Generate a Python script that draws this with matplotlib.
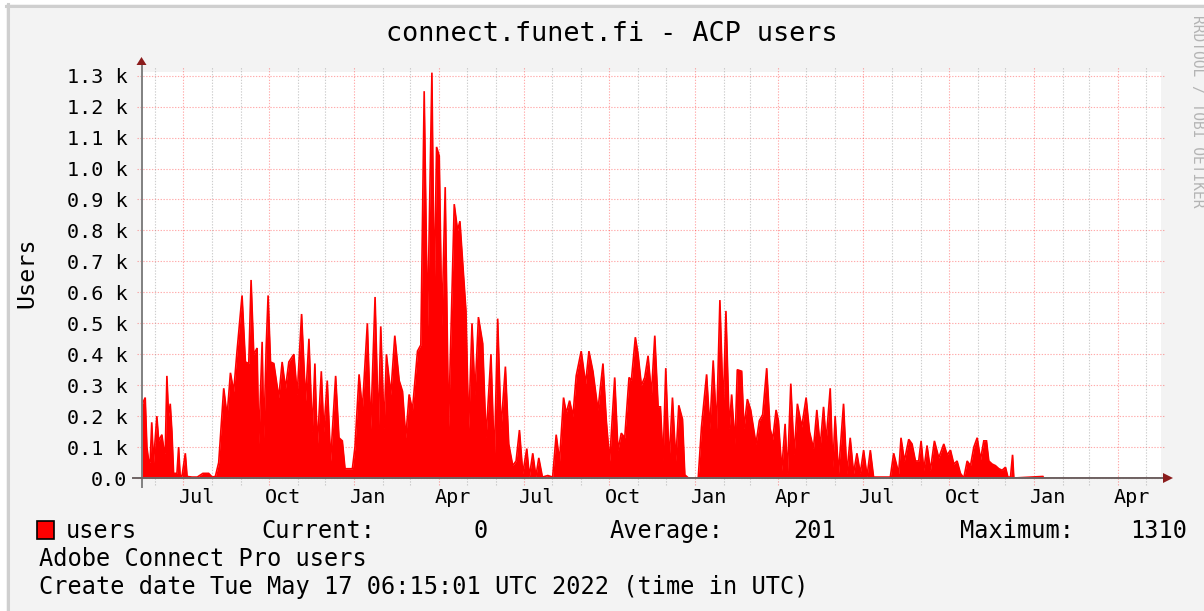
import datetime as dt
import matplotlib
matplotlib.use("Agg")
import matplotlib.pyplot as plt
import matplotlib.transforms as mtrans
from matplotlib.patches import Polygon, Rectangle
from matplotlib.lines import Line2D

# ---------------- data ----------------
start_date = dt.datetime(2019, 5, 17, 6, 15)
end_date = dt.datetime(2022, 5, 17, 6, 15)

day_offset = [
    0.0, 1.0, 4.0, 5.8, 7.5, 9.3, 11.0, 12.9, 16.5, 18.5, 20.1, 21.9, 23.7, 25.5, 27.3, 29.1,
    30.9, 32.7, 34.5, 38.1, 39.9, 41.5, 43.5, 47.1, 49.0, 54.2, 60.0, 66.0, 72.2, 76.0, 79.4,
    83.0, 88.4, 92.0, 95.6, 99.1, 102.7, 108.1, 111.7, 115.3, 117.8, 120.7, 124.3, 126.1,
    129.7, 131.5, 134.0, 136.1, 138.7, 142.3, 147.6, 151.2, 154.8, 158.4, 163.8, 167.4, 172.1,
    176.4, 180.0, 183.6, 186.4, 189.0, 193.3, 196.0, 199.7, 203.3, 208.7, 212.3, 215.9, 218.8,
    226.7, 229.5, 233.9, 237.4, 242.8, 246.4, 251.1, 254.7, 257.2, 260.8, 263.3, 268.0, 272.3,
    277.0, 280.6, 284.1, 287.7, 291.3, 296.7, 300.3, 303.9, 307.5, 312.2, 314.7, 317.2, 320.1,
    322.9, 326.5, 330.1, 336.2, 339.8, 342.3, 345.2, 348.8, 351.7, 355.3,
    358.5, 362.2, 366.8, 370.4, 375.7, 379.3, 382.9, 386.5, 391.2, 394.8, 399.1, 402.7, 406.3,
    409.9, 414.2, 417.0, 420.6, 424.0, 427.1, 431.0, 436.8, 442.0, 445.8, 449.4, 453.7, 456.6,
    460.2, 463.8, 467.3, 472.7, 477.4, 481.0, 485.3, 490.7, 496.1, 499.7, 503.3, 508.7, 512.2,
    515.8, 519.5, 524.1, 526.6, 530.9, 533.8, 537.4,
    541.0, 544.6, 548.2, 551.8, 555.4, 557.9, 560.7, 563.6, 567.2, 570.8, 574.4, 577.6, 581.6,
    584.1, 588.0, 598.5, 602.0, 607.5, 611.0, 614.6, 618.2, 621.8, 625.4, 628.3, 631.9, 634.4,
    638.0, 640.5, 645.2, 647.7, 651.3, 654.9, 660.6, 664.2, 667.8, 672.1, 675.7, 678.6, 682.2,
    684.7, 688.3, 691.9, 694.4, 698.0, 701.6, 705.1, 709.8, 714.5, 718.1,
    722.4, 726.0, 729.6, 733.2, 736.0, 740.4, 743.2, 745.7, 749.3, 754.7, 758.3, 761.9, 765.5,
    769.1, 772.7, 776.3, 780.0, 783.5, 787.0, 805.0, 808.6, 814.0, 816.5, 820.1, 824.8, 828.4,
    832.0, 835.5, 838.1, 841.0, 844.5, 848.1, 852.4, 857.1, 862.5, 866.1, 869.7, 873.3, 876.8,
    880.4, 884.0, 887.6, 891.2, 894.8, 898.4, 902.0,
    905.5, 908.4, 910.9, 914.5, 918.0, 921.7, 925.2, 928.8, 931.4, 934.2, 936.4, 937.8, 969.0,
    970.0, 1096.0,
]
users = [
    0, 240, 260, 100, 60, 50, 180, 50, 200, 120, 130, 140, 100, 80, 330, 200,
    240, 150, 15, 15, 100, 10, 5, 80, 5, 3, 3, 15, 15, 3, 5,
    50, 290, 200, 340, 280, 410, 590, 375, 370, 640, 400, 420, 110,
    440, 130, 420, 590, 375, 370, 260, 375, 290, 375, 400, 270, 530,
    250, 450, 150, 370, 100, 345, 150, 315, 55, 330, 130, 120, 30,
    30, 100, 335, 220, 500, 160, 585, 160, 490, 160, 400, 270, 460,
    315, 280, 130, 270, 220, 410, 430, 1250, 490, 1310, 595, 1070, 1040,
    490, 940, 165, 885, 800, 830, 700, 540, 160, 500,
    270, 520, 435, 130, 400, 55, 515, 160, 360, 110, 40, 55, 155,
    15, 95, 5, 80, 5, 65, 3, 8, 3, 140, 55, 260, 210,
    250, 200, 330, 410, 305, 410, 345, 220, 370, 185, 55, 325, 90,
    145, 130, 325, 315, 455, 400, 300,
    325, 395, 270, 460, 230, 230, 55, 355, 55, 260, 55, 235, 190,
    10, 0, 0, 165, 335, 160, 380, 160, 575, 220, 540, 160, 270,
    110, 350, 345, 160, 255, 220, 110, 185, 205, 355, 160, 125, 220,
    185, 25, 175, 15, 305, 75, 240, 165, 260, 150,
    95, 220, 100, 230, 120, 290, 35, 200, 15, 240, 15, 130, 15,
    80, 15, 90, 5, 90, 3, 3, 80, 15, 130, 55, 125, 110,
    55, 55, 120, 25, 105, 25, 120, 65, 110, 75, 90, 45, 55,
    15, 0, 55, 40, 100, 130, 60,
    120, 120, 55, 45, 40, 30, 25, 35, 3, 3, 75, 0, 5,
    0, 0,
]

y_ticks = [0, 100, 200, 300, 400, 500, 600, 700, 800, 900, 1000, 1100, 1200, 1300]
y_tick_labels = ["0.0", "0.1 k", "0.2 k", "0.3 k", "0.4 k", "0.5 k", "0.6 k", "0.7 k",
                 "0.8 k", "0.9 k", "1.0 k", "1.1 k", "1.2 k", "1.3 k"]
month_names = {1: "Jan", 4: "Apr", 7: "Jul", 10: "Oct"}

title = "connect.funet.fi - ACP users"
y_label = "Users"
legend_name = "users"
stat_current = "0"
stat_average = "201"
stat_maximum = "1310"
comment_1 = "Adobe Connect Pro users"
comment_2 = "Create date Tue May 17 06:15:01 UTC 2022 (time in UTC)"
watermark = "RRDTOOL / TOBI OETIKER"

# ---------------- layout ----------------
W, H = 1204, 611
DPI = 100
MONO = "DejaVu Sans Mono"
fig = plt.figure(figsize=(W / DPI, H / DPI), dpi=DPI, facecolor="#FFFFFF")


def fx(x):
    return x / W


def fy(y):
    return 1 - y / H


# background + frame
fig.patches.append(Rectangle((fx(6), 0), 1, fy(4), transform=fig.transFigure,
                             facecolor="#F3F3F3", edgecolor="none", zorder=-10))
fig.lines.append(Line2D([fx(7.5), fx(7.5)], [0, fy(4)], transform=fig.transFigure,
                        color="#CFCFCF", lw=2.2, zorder=-9))
fig.lines.append(Line2D([fx(6), 1], [fy(5.5), fy(5.5)], transform=fig.transFigure,
                        color="#CFCFCF", lw=2.2, zorder=-9))

L, R, T, B = 141.5, 1161, 72, 478
ax = fig.add_axes([fx(L), fy(B), fx(R) - fx(L), (B - T) / H])
ax.set_facecolor("#FFFFFF")
for s in ax.spines.values():
    s.set_visible(False)

dates = [start_date + dt.timedelta(days=d) for d in day_offset]
ax.fill_between(dates, users, 0, color="#FF0000", lw=0, zorder=3)
ax.plot(dates, users, color="#FF0000", lw=1.2, zorder=3, solid_joinstyle="miter")

ax.set_xlim(start_date, end_date)
ax.set_ylim(0, 1312)

# horizontal grid (extends slightly outside the plot as ticks)
ytrans = mtrans.blended_transform_factory(ax.transAxes, ax.transData)
x0a = -4.5 / (R - L)
x1a = 1 + 3 / (R - L)
for v in y_ticks:
    ax.plot([x0a, x1a], [v, v], transform=ytrans, clip_on=False, color="#FF0000",
            alpha=0.33, lw=0.8, ls=(0, (1.2, 1.4)), zorder=1)

# vertical grid
xtrans = mtrans.blended_transform_factory(ax.transData, ax.transAxes)
y0a = -7 / (B - T)
y1a = 1 + 5 / (B - T)
month_starts = []
d = dt.datetime(2019, 6, 1)
while d < end_date:
    month_starts.append(d)
    d = dt.datetime(d.year + (d.month // 12), d.month % 12 + 1, 1)
for m in month_starts:
    major = m.month in month_names
    ax.plot([m, m], [y0a, y1a], transform=xtrans, clip_on=False,
            color="#FF0000" if major else "#909090",
            alpha=0.33 if major else 0.45, lw=0.8, ls=(0, (1.2, 1.4)), zorder=1)

# tick labels
ax.set_yticks(y_ticks)
ax.set_yticklabels(y_tick_labels, fontfamily=MONO, fontsize=14.5, color="#000000")
ax.tick_params(axis="y", length=0, pad=10)
label_dates = [dt.datetime(m.year, m.month, 16) for m in month_starts if m.month in month_names]
ax.set_xticks(label_dates)
ax.set_xticklabels([month_names[m.month] for m in label_dates], fontfamily=MONO,
                   fontsize=14.5, color="#000000")
ax.tick_params(axis="x", length=0, pad=7)

# axis lines + arrows
AX_COL = "#6E6464"
AR_COL = "#8B1C1C"
fig.lines.append(Line2D([fx(L), fx(L)], [fy(487), fy(64)], transform=fig.transFigure,
                        color="#808080", lw=1.4, zorder=5))
fig.lines.append(Line2D([fx(133), fx(1164)], [fy(B), fy(B)], transform=fig.transFigure,
                        color=AX_COL, lw=1.4, zorder=5))
fig.patches.append(Polygon([(fx(L - 5), fy(65)), (fx(L + 5), fy(65)), (fx(L), fy(57))],
                           closed=True, transform=fig.transFigure, facecolor=AR_COL,
                           edgecolor="none", zorder=6))
fig.patches.append(Polygon([(fx(1163), fy(B - 5)), (fx(1163), fy(B + 5)), (fx(1173), fy(B))],
                           closed=True, transform=fig.transFigure, facecolor=AR_COL,
                           edgecolor="none", zorder=6))

# texts
fig.text(fx(612), fy(41), title, fontfamily=MONO, fontsize=19.4, ha="center",
         va="baseline", color="#000000")
fig.text(fx(27), fy(273), y_label, fontfamily=MONO, fontsize=16.8, rotation=90,
         ha="center", va="center", color="#000000")
fig.text(fx(1197), fy(15), watermark, fontfamily=MONO, fontsize=10.5, rotation=270,
         ha="center", va="top", color="#B4B4B4")

LEG_BASE = 538
fig.patches.append(Rectangle((fx(37), fy(539)), fx(54) - fx(37), (539 - 521) / H,
                             transform=fig.transFigure, facecolor="#FF0000",
                             edgecolor="#000000", lw=1.2, zorder=5))
fs_leg = 17
fig.text(fx(66), fy(LEG_BASE), legend_name, fontfamily=MONO, fontsize=fs_leg, va="baseline")
fig.text(fx(261), fy(LEG_BASE), "Current:", fontfamily=MONO, fontsize=fs_leg, va="baseline")
fig.text(fx(488), fy(LEG_BASE), stat_current, fontfamily=MONO, fontsize=fs_leg,
         va="baseline", ha="right")
fig.text(fx(610), fy(LEG_BASE), "Average:", fontfamily=MONO, fontsize=fs_leg, va="baseline")
fig.text(fx(836), fy(LEG_BASE), stat_average, fontfamily=MONO, fontsize=fs_leg,
         va="baseline", ha="right")
fig.text(fx(960), fy(LEG_BASE), "Maximum:", fontfamily=MONO, fontsize=fs_leg, va="baseline")
fig.text(fx(1187), fy(LEG_BASE), stat_maximum, fontfamily=MONO, fontsize=fs_leg,
         va="baseline", ha="right")
fig.text(fx(39), fy(566), comment_1, fontfamily=MONO, fontsize=fs_leg, va="baseline")
fig.text(fx(39), fy(594), comment_2, fontfamily=MONO, fontsize=fs_leg, va="baseline")

fig.savefig("out.png", dpi=DPI, facecolor=fig.get_facecolor())
